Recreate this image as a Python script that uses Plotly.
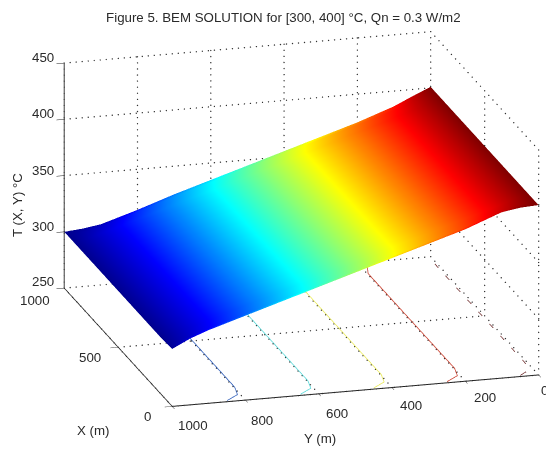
import numpy as np
import plotly.graph_objects as go

TITLE = "Figure 5. BEM SOLUTION for [300, 400] °C, Qn = 0.3 W/m2"
x_m = [0, 40, 100, 300, 500, 700, 900, 960, 1000]
y_m = [0, 50, 100, 200, 300, 400, 500, 600, 700, 800, 900, 950, 1000]
# T rows follow x_m, columns follow y_m
T_0    = [401, 400, 397.5, 385, 375, 365, 355, 345, 335, 325, 315, 309, 301]
T_40   = [401, 397, 392, 381, 371, 361, 351, 341, 331, 321, 311, 305.5, 300.5]
T_100  = [401, 395.5, 390, 380, 370, 360, 350, 340, 330, 320, 310, 305, 300]
T_300  = [401, 395.5, 390, 380, 370, 360, 350, 340, 330, 320, 310, 305, 300]
T_500  = [401, 395.5, 390, 380, 370, 360, 350, 340, 330, 320, 310, 305, 300]
T_700  = [401, 395.5, 390, 380, 370, 360, 350, 340, 330, 320, 310, 305, 300]
T_900  = [401, 395.5, 390, 380, 370, 360, 350, 340, 330, 320, 310, 305, 300]
T_960  = [401, 395, 388.5, 378.5, 368.5, 358.5, 348.5, 338.5, 328.5, 318, 307.5, 303.5, 300]
T_1000 = [401, 394, 386.5, 375, 365, 355, 345, 335, 325, 314, 304, 301.5, 300]
T_rows = [T_0, T_40, T_100, T_300, T_500, T_700, T_900, T_960, T_1000]

x_ticks = [0, 500, 1000]
x_tick_labels = ["0", "500", "1000"]
y_ticks = [0, 200, 400, 600, 800, 1000]
y_tick_labels = ["0", "200", "400", "600", "800", "1000"]
z_ticks = [250, 300, 350, 400, 450]
z_tick_labels = ["250", "300", "350", "400", "450"]
levels = [320, 340, 360, 380, 400]
level_colors = ["#2a5ab8", "#55d8d8", "#eaea55", "#c83a28", "#6e2a2a"]
level_dash = ["solid", "solid", "solid", "solid", "longdash"]

jet = [[0, "rgb(0,0,143)"], [0.125, "rgb(0,0,255)"], [0.375, "rgb(0,255,255)"],
       [0.625, "rgb(255,255,0)"], [0.875, "rgb(255,0,0)"], [1, "rgb(128,0,0)"]]

fig = go.Figure()
fig.add_trace(go.Surface(
    x=x_m, y=y_m, z=list(map(list, zip(*T_rows))),
    colorscale=jet, cmin=300, cmax=401, showscale=False,
    lighting=dict(ambient=1, diffuse=0, specular=0, roughness=1, fresnel=0),
    hoverinfo="skip",
))

xlo, xhi, ylo, yhi, zlo, zhi = 0, 1000, 0, 1000, 250, 450
gx, gy, gz = [], [], []


def dotted(xs, ys, zs, n):
    gx.extend(np.linspace(xs[0], xs[1], n))
    gy.extend(np.linspace(ys[0], ys[1], n))
    gz.extend(np.linspace(zs[0], zs[1], n))


for xv in x_ticks:
    dotted([xv, xv], [ylo, yhi], [zlo, zlo], 62)
    dotted([xv, xv], [ylo, ylo], [zlo, zhi], 38)
for yv in y_ticks:
    dotted([xlo, xhi], [yv, yv], [zlo, zlo], 27)
    dotted([xhi, xhi], [yv, yv], [zlo, zhi], 38)
for zv in z_ticks:
    dotted([xhi, xhi], [ylo, yhi], [zv, zv], 62)
    dotted([xlo, xhi], [ylo, ylo], [zv, zv], 27)
fig.add_trace(go.Scatter3d(x=gx, y=gy, z=gz, mode="markers", showlegend=False, hoverinfo="skip",
                           marker=dict(color="#333333", size=0.8, line=dict(width=0))))

for lev, col, dash in zip(levels, level_colors, level_dash):
    cx, cy = [], []
    for xv, row in zip(x_m, T_rows):
        for j in range(len(y_m) - 1):
            a, b = row[j], row[j + 1]
            if (a - lev) * (b - lev) <= 0 and a != b:
                cx.append(xv)
                cy.append(y_m[j] + (lev - a) / (b - a) * (y_m[j + 1] - y_m[j]))
                break
    fig.add_trace(go.Scatter3d(x=cx, y=cy, z=[zlo + 1] * len(cx), mode="lines", showlegend=False,
                               hoverinfo="skip", line=dict(color=col, width=1.5, dash=dash)))

font = dict(family="Liberation Sans, Arial, sans-serif", size=13.3, color="#2a2a2a")
axis = dict(showgrid=False, zeroline=False, showbackground=False, showline=True,
            linecolor="#222222", linewidth=2, ticks="outside", ticklen=8, tickcolor="#222222",
            showticklabels=False, showspikes=False, title=dict(text=""))
note = dict(xref="paper", yref="paper", showarrow=False, font=font, xanchor="center", yanchor="middle")
page = 8  # the page body offsets the figure by this many pixels


def place(text, px, py, **kw):
    return dict(note, text=text, x=(px - page) / 554, y=1 - (py - page) / 449, **kw)


x_label_px = [(147, 416), (90, 357), (35, 300)]
y_label_px = [(544, 390), (485, 397), (411, 405), (337, 413), (262, 420), (193, 425)]
z_label_px = [(43, 281), (43, 226), (43, 170), (43, 113), (43, 57)]
center = dict(x=0.0017, y=0.0755, z=-0.0571)
view = dict(x=-1.0348, y=0.2896, z=0.3461)
fig.update_layout(
    width=554, height=449, margin=dict(l=0, r=0, t=0, b=0),
    paper_bgcolor="white", showlegend=False,
    font=font,
    title=dict(text=TITLE, x=0.497, xanchor="center", y=0.98, yanchor="middle", font=font),
    scene=dict(
        domain=dict(x=[0, 1], y=[0, 1]),
        aspectmode="manual", aspectratio=dict(x=1.785, y=1.695, z=1.053),
        xaxis=dict(axis, range=[0, 1000], tickvals=x_ticks),
        yaxis=dict(axis, range=[0, 1000], tickvals=y_ticks),
        zaxis=dict(axis, range=[250, 450], tickvals=z_ticks),
        camera=dict(projection=dict(type="orthographic"), up=dict(x=0, y=0, z=1),
                    center=center,
                    eye={k: center[k] + view[k] for k in center}),
    ),
    annotations=(
        [place(t, *p) for t, p in zip(x_tick_labels, x_label_px)]
        + [place(t, *p) for t, p in zip(y_tick_labels, y_label_px)]
        + [place(t, *p) for t, p in zip(z_tick_labels, z_label_px)]
        + [place("X (m)", 93, 430), place("Y (m)", 320, 438),
           place("T (X, Y) °C", 17, 205, textangle=-90)]
    ),
)
fig.write_html("out.html", post_script="document.documentElement.style.overflow='hidden';")
